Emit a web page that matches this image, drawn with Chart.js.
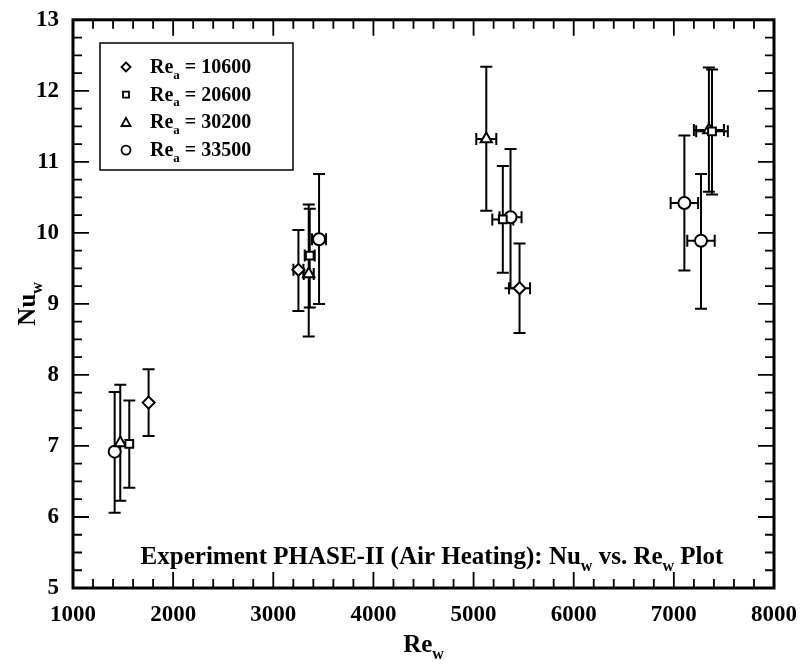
<!DOCTYPE html>
<html>
<head>
<meta charset="utf-8">
<title>Nu_w vs Re_w</title>
<script src="https://cdn.jsdelivr.net/npm/chart.js@4.4.0/dist/chart.umd.min.js"></script>
<style>
  html, body { margin: 0; padding: 0; background: #fff; }
  canvas { display: block; }
</style>
</head>
<body>
<canvas id="nuChart" width="802" height="666"></canvas>
<script>
// air side Reynolds number of each run
var reAir = [10600, 20600, 30200, 33500];

// Re_a = 10600 (diamonds)
var rew1 = [1755, 3251, 5459];
var nuw1 = [7.61, 9.48, 9.22];
var nuLo1 = [7.14, 8.90, 8.59];
var nuHi1 = [8.08, 10.04, 9.85];
var rewErr1 = [0, 50, 105];

// Re_a = 20600 (squares)
var rew2 = [1562, 3364, 5292, 7381];
var nuw2 = [7.03, 9.68, 10.19, 11.43];
var nuLo2 = [6.41, 8.95, 9.44, 10.54];
var nuHi2 = [7.64, 10.34, 10.94, 12.30];
var rewErr2 = [0, 50, 105, 158];

// Re_a = 30200 (triangles)
var rew3 = [1472, 3354, 5127, 7350];
var nuw3 = [7.04, 9.42, 11.32, 11.45];
var nuLo3 = [6.23, 8.54, 10.31, 10.58];
var nuHi3 = [7.86, 10.40, 12.34, 12.33];
var rewErr3 = [0, 50, 100, 150];

// Re_a = 33500 (circles)
var rew4 = [1416, 3457, 5369, 7105, 7271];
var nuw4 = [6.92, 9.91, 10.22, 10.42, 9.89];
var nuLo4 = [6.06, 9.00, 9.22, 9.47, 8.93];
var nuHi4 = [7.76, 10.83, 11.18, 11.37, 10.83];
var rewErr4 = [0, 70, 110, 137, 137];

var serif = "'Liberation Serif', 'Times New Roman', serif";

function pts(xs, ys) {
  return xs.map(function (x, i) { return { x: x, y: ys[i] }; });
}

function makeSet(label, style, r, xs, ys, lo, hi, xe) {
  return {
    label: label,
    data: pts(xs, ys),
    nuLo: lo,
    nuHi: hi,
    rewErr: xe,
    pointStyle: style,
    pointRadius: r,
    pointHoverRadius: r,
    pointBorderWidth: 2,
    borderColor: '#000',
    backgroundColor: '#fff',
    showLine: false
  };
}

// small marker for the legend box
function marker(ctx, style, x, y, r) {
  ctx.beginPath();
  if (style === 'circle') {
    ctx.arc(x, y, r, 0, Math.PI * 2);
  } else if (style === 'rect') {
    ctx.rect(x - r * 0.75, y - r * 0.75, r * 1.5, r * 1.5);
  } else if (style === 'rectRot') {
    ctx.moveTo(x, y - r); ctx.lineTo(x + r, y); ctx.lineTo(x, y + r); ctx.lineTo(x - r, y); ctx.closePath();
  } else {
    ctx.moveTo(x, y - r); ctx.lineTo(x + r, y + r * 0.8); ctx.lineTo(x - r, y + r * 0.8); ctx.closePath();
  }
  ctx.fillStyle = '#fff';
  ctx.fill();
  ctx.stroke();
}

// text with a subscript part: segs = [[text, isSub], ...]
function richText(ctx, segs, x, y, size, align) {
  var big = 'bold ' + size + 'px ' + serif;
  var small = 'bold ' + Math.round(size * 0.65) + 'px ' + serif;
  var w = 0;
  segs.forEach(function (s) { ctx.font = s[1] ? small : big; w += ctx.measureText(s[0]).width; });
  var cx = align === 'center' ? x - w / 2 : x;
  ctx.textAlign = 'left';
  ctx.textBaseline = 'alphabetic';
  segs.forEach(function (s) {
    ctx.font = s[1] ? small : big;
    ctx.fillText(s[0], cx, s[1] ? y + size * 0.28 : y);
    cx += ctx.measureText(s[0]).width;
  });
}

var errorBars = {
  id: 'errorBars',
  beforeDatasetsDraw: function (chart) {
    var ctx = chart.ctx, xs = chart.scales.x, ys = chart.scales.y;
    var cap = 6;
    ctx.save();
    ctx.strokeStyle = '#000';
    ctx.lineWidth = 2;
    chart.data.datasets.forEach(function (ds) {
      ds.data.forEach(function (p, i) {
        var px = xs.getPixelForValue(p.x);
        var py = ys.getPixelForValue(p.y);
        var yl = ys.getPixelForValue(ds.nuLo[i]);
        var yh = ys.getPixelForValue(ds.nuHi[i]);
        ctx.beginPath();
        ctx.moveTo(px, yl); ctx.lineTo(px, yh);
        ctx.moveTo(px - cap, yl); ctx.lineTo(px + cap, yl);
        ctx.moveTo(px - cap, yh); ctx.lineTo(px + cap, yh);
        if (ds.rewErr[i] > 0) {
          var xl = xs.getPixelForValue(p.x - ds.rewErr[i]);
          var xr = xs.getPixelForValue(p.x + ds.rewErr[i]);
          ctx.moveTo(xl, py); ctx.lineTo(xr, py);
          ctx.moveTo(xl, py - cap); ctx.lineTo(xl, py + cap);
          ctx.moveTo(xr, py - cap); ctx.lineTo(xr, py + cap);
        }
        ctx.stroke();
      });
    });
    ctx.restore();
  }
};

var frameAndText = {
  id: 'frameAndText',
  afterDraw: function (chart) {
    var ctx = chart.ctx, a = chart.chartArea;
    var xs = chart.scales.x, ys = chart.scales.y;
    ctx.save();
    ctx.strokeStyle = '#000';
    ctx.fillStyle = '#000';

    // inward ticks on all four sides
    ctx.lineWidth = 1.8;
    ctx.beginPath();
    for (var v = 1000; v <= 8000; v += 200) {
      var len = v % 1000 === 0 ? 16 : 9;
      var x = xs.getPixelForValue(v);
      ctx.moveTo(x, a.bottom); ctx.lineTo(x, a.bottom - len);
      ctx.moveTo(x, a.top); ctx.lineTo(x, a.top + len);
    }
    for (var k = 0; k <= 32; k++) {
      var yv = 5 + k * 0.25;
      var ylen = k % 4 === 0 ? 16 : 9;
      var y = ys.getPixelForValue(yv);
      ctx.moveTo(a.left, y); ctx.lineTo(a.left + ylen, y);
      ctx.moveTo(a.right, y); ctx.lineTo(a.right - ylen, y);
    }
    ctx.stroke();

    ctx.lineWidth = 3;
    ctx.strokeRect(a.left, a.top, a.right - a.left, a.bottom - a.top);

    // legend box
    var styles = ['rectRot', 'rect', 'triangle', 'circle'];
    ctx.lineWidth = 1.5;
    ctx.strokeRect(100, 43, 193, 127);
    ctx.lineWidth = 1.8;
    reAir.forEach(function (re, i) {
      var ly = 67 + i * 27.7;
      marker(ctx, styles[i], 126, ly, i === 1 ? 4 : 4.5);
      ctx.fillStyle = '#000';
      richText(ctx, [['Re', false], ['a', true], [' = ' + re, false]], 150, ly + 6, 20, 'left');
    });

    // axis titles and the plot caption
    ctx.fillStyle = '#000';
    richText(ctx, [['Re', false], ['w', true]], (a.left + a.right) / 2, 652, 25, 'center');
    ctx.save();
    ctx.translate(35, (a.top + a.bottom) / 2);
    ctx.rotate(-Math.PI / 2);
    richText(ctx, [['Nu', false], ['w', true]], 0, 0, 25, 'center');
    ctx.restore();
    richText(ctx, [['Experiment PHASE-II (Air Heating): Nu', false], ['w', true],
                   [' vs. Re', false], ['w', true], [' Plot', false]],
             432, 564, 25, 'center');
    ctx.restore();
  }
};

var ctx = document.getElementById('nuChart').getContext('2d');
var nuChart = new Chart(ctx, {
  type: 'scatter',
  data: {
    datasets: [
      makeSet('Re_a = ' + reAir[0], 'rectRot', 6, rew1, nuw1, nuLo1, nuHi1, rewErr1),
      makeSet('Re_a = ' + reAir[1], 'rect', 5.5, rew2, nuw2, nuLo2, nuHi2, rewErr2),
      makeSet('Re_a = ' + reAir[2], 'triangle', 6.5, rew3, nuw3, nuLo3, nuHi3, rewErr3),
      makeSet('Re_a = ' + reAir[3], 'circle', 6, rew4, nuw4, nuLo4, nuHi4, rewErr4)
    ]
  },
  options: {
    responsive: false,
    animation: false,
    events: [],
    layout: { autoPadding: false, padding: { top: 17, right: 28, left: 0, bottom: 0 } },
    plugins: { legend: { display: false }, tooltip: { enabled: false } },
    scales: {
      x: {
        type: 'linear',
        min: 1000, max: 8000,
        grid: { display: false },
        border: { display: false },
        ticks: {
          stepSize: 1000, autoSkip: false, maxRotation: 0, padding: 5,
          callback: function (v) { return String(v); },
          color: '#000', font: { family: serif, size: 23, weight: 'bold' }
        },
        afterFit: function (s) { s.height = 78; }
      },
      y: {
        min: 5, max: 13,
        grid: { display: false },
        border: { display: false },
        ticks: {
          stepSize: 1, padding: 6,
          color: '#000', font: { family: serif, size: 23, weight: 'bold' }
        },
        afterFit: function (s) { s.width = 73; }
      }
    }
  },
  plugins: [errorBars, frameAndText]
});
</script>
</body>
</html>
